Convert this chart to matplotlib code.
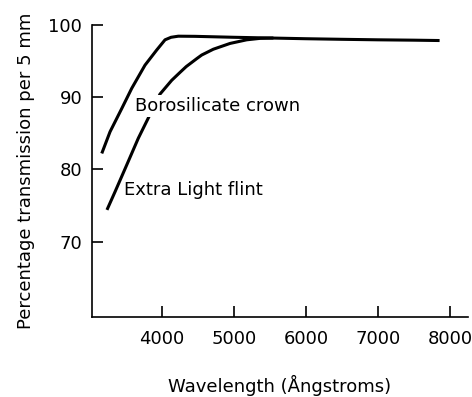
import matplotlib
matplotlib.use('Agg')
import matplotlib.pyplot as plt

# upper curve (starts higher at short wavelengths)
crown_wl = [3168, 3283, 3445, 3584, 3768, 3931, 4046, 4130, 4230, 4462, 5000, 5500, 6000, 6500, 7000, 7500, 7856]
crown_tr = [82.2, 85.2, 88.4, 91.2, 94.4, 96.5, 97.9, 98.25, 98.4, 98.38, 98.25, 98.15, 98.05, 97.97, 97.9, 97.85, 97.8]

# lower curve
flint_wl = [3240, 3352, 3514, 3675, 3814, 3976, 4138, 4254, 4340, 4486, 4555, 4716, 4948, 5179, 5364, 5550]
flint_tr = [74.4, 76.9, 80.6, 84.3, 87.1, 90.4, 92.3, 93.4, 94.2, 95.3, 95.8, 96.6, 97.4, 97.9, 98.1, 98.15]

xticks = [4000, 5000, 6000, 7000, 8000]
yticks = [70, 80, 90, 100]

plt.rcParams['font.family'] = 'DejaVu Sans'

fig = plt.figure(figsize=(4.72, 3.97), dpi=100)
ax = fig.add_axes([0.195, 0.2015, 0.7965, 0.7365])

ax.plot(crown_wl, crown_tr, color='black', lw=2.2, solid_capstyle='butt')
ax.plot(flint_wl, flint_tr, color='black', lw=2.2, solid_capstyle='butt')

# this label sits on a white patch that hides the curve behind it
ax.text(3629, 88.8, 'Borosilicate crown', fontsize=13, va='center', ha='left',
        bbox=dict(facecolor='white', edgecolor='none', pad=1.5), zorder=3)
ax.text(3480, 77.1, 'Extra Light flint', fontsize=13, va='center', ha='left')

ax.set_xlim(3033, 8250)
ax.set_ylim(59.6, 100)
ax.set_xticks(xticks)
ax.set_yticks(yticks)

for s in ['top', 'right']:
    ax.spines[s].set_visible(False)
for s in ['left', 'bottom']:
    ax.spines[s].set_linewidth(1.2)

ax.tick_params(axis='x', direction='in', length=8, width=1.2, pad=9, labelsize=13)
ax.tick_params(axis='y', direction='in', length=8, width=1.2, pad=7, labelsize=13)

ax.set_xlabel('Wavelength (Ångstroms)', fontsize=13, labelpad=20)
ax.set_ylabel('Percentage transmission per 5 mm', fontsize=13, labelpad=10)

fig.savefig('out.png', dpi=100)
